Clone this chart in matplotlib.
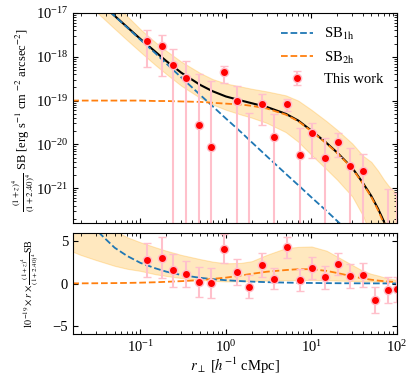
import numpy as np
import matplotlib
matplotlib.use("Agg")
import matplotlib.pyplot as plt

plt.rcParams["font.family"] = "serif"
plt.rcParams["font.serif"] = ["Liberation Serif", "DejaVu Serif"]
plt.rcParams["mathtext.fontset"] = "stix"
plt.rcParams["font.size"] = 10

# --- measured profile (SB in units of 1e-19 erg/s/cm^2/arcsec^2) ---
r_data = [0.121, 0.177, 0.242, 0.341, 0.482, 0.673, 0.948, 1.34, 1.87, 2.62, 3.66,
          5.17, 7.26, 10.2, 14.3, 20.2, 28.2, 39.8, 55.3, 78.0, 101.0]
sb_data = [23.0, 17.4, 6.4, 3.26, 0.277, 0.089, 4.38, 1.0, -0.19, 0.83, 0.15,
           0.83, 0.056, 0.179, 0.050, 0.115, 0.0327, 0.0248, -0.036, -0.0103, -0.007]
sb_err = [17.0, 13.7, 8.3, 4.6, 3.7, 2.7, 1.85, 1.17, 0.70, 0.55, 0.34,
          0.24, 0.177, 0.13, 0.092, 0.064, 0.051, 0.035, 0.028, 0.0199, 0.0148]

# --- best-fit model (log10 SB) ---
r_mod = [0.016, 0.02, 0.03, 0.05, 0.07, 0.1, 0.15, 0.2, 0.3, 0.5, 0.7, 1.0, 1.5, 2.0,
         3.0, 5.0, 7.0, 10, 15, 20, 30, 40, 50, 60, 70, 80, 90, 100]
log_sb1h = [-16.17, -16.35, -16.67, -17.07, -17.33, -17.61, -17.92, -18.15, -18.47,
            -18.87, -19.13, -19.41, -19.72, -19.95, -20.27, -20.67, -20.93, -21.21,
            -21.52, -21.75, -22.07, -22.29, -22.47, -22.61, -22.73, -22.83, -22.93, -23.0]
log_sb2h = [-19.0, -19.0, -19.0, -19.0, -19.0, -19.0, -19.01, -19.01, -19.02, -19.03,
            -19.05, -19.07, -19.09, -19.12, -19.18, -19.32, -19.47, -19.7, -19.98,
            -20.2, -20.55, -20.9, -21.2, -21.5, -21.8, -22.2, -22.6, -23.0]
log_band_hi = [-15.87, -16.05, -16.36, -16.78, -17.07, -17.37, -17.67, -17.86, -18.11,
               -18.37, -18.51, -18.61, -18.68, -18.73, -18.79, -18.88, -19.0, -19.21,
               -19.47, -19.67, -19.98, -20.26, -20.4, -20.6, -20.8, -20.95, -21.05, -21.15]
log_band_lo = [-16.47, -16.65, -16.96, -17.36, -17.62, -17.89, -18.19, -18.39, -18.66,
               -18.94, -19.09, -19.21, -19.32, -19.39, -19.51, -19.72, -19.94, -20.24,
               -20.57, -20.81, -21.19, -21.63, -22.1, -22.7, -23.0, -23.5, -24.0, -24.0]

# r x SB panel (units of 1e-19)
rsb_2h = [0.02, 0.02, 0.03, 0.05, 0.07, 0.1, 0.15, 0.2, 0.28, 0.4, 0.55, 0.7, 0.95, 1.15,
          1.4, 1.6, 1.7, 1.7, 1.5, 1.25, 0.85, 0.6, 0.45, 0.35, 0.28, 0.24, 0.2, 0.18]
rsb_band_hi = [9.0, 8.0, 7.0, 6.3, 5.5, 4.9, 4.3, 3.9, 3.4, 2.9, 2.6, 2.4, 2.45, 2.65,
               3.4, 4.2, 4.35, 4.4, 3.9, 3.2, 2.2, 1.5, 1.15, 0.95, 0.75, 0.6, 0.5, 0.45]
rsb_band_lo = [3.8, 3.4, 2.8, 2.1, 1.75, 1.5, 1.1, 0.9, 0.65, 0.42, 0.32, 0.25, 0.27, 0.3,
               0.35, 0.4, 0.42, 0.42, 0.4, 0.35, 0.3, 0.27, 0.25, 0.23, 0.22, 0.2, 0.2, 0.2]

r_data = np.array(r_data)
sb = np.array(sb_data) * 1e-19
err = np.array(sb_err) * 1e-19
r_mod = np.array(r_mod)
sb1h = 10 ** np.array(log_sb1h)
sb2h = 10 ** np.array(log_sb2h)
sb_tot = sb1h + sb2h

fig = plt.figure(figsize=(4.15, 3.79), dpi=100)
ax1 = fig.add_axes([0.1759, 0.4116, 0.7807, 0.5541])
ax2 = fig.add_axes([0.1759, 0.1187, 0.7807, 0.2665], sharex=ax1)

ebar_kw = dict(fmt="o", color="red", ms=6, mec="pink", mew=1.0, ecolor="pink",
               elinewidth=1.5, capsize=3, capthick=1.2)

# top panel
ax1.fill_between(r_mod, 10 ** np.array(log_band_lo), 10 ** np.array(log_band_hi),
                 color="orange", alpha=0.25, lw=0.8)
ax1.plot(r_mod, sb_tot, color="black", lw=1.5)
ax1.plot(r_mod, sb1h, ls="--", color="#1f77b4", lw=1.3, label=r"SB$_{\rm 1h}$")
ax1.plot(r_mod, sb2h, ls="--", color="#ff7f0e", lw=1.3, label=r"SB$_{\rm 2h}$")
ax1.errorbar(r_data, sb, yerr=err, label="This work", **ebar_kw)
ax1.set_xscale("log")
ax1.set_yscale("log", nonpositive="clip")
ax1.set_xlim(0.0163, 100)
ax1.set_ylim(1.6e-22, 1e-17)
ax1.set_ylabel(r"$\frac{(1+z)^4}{(1+2.40)^4}$ SB [erg s$^{-1}$ cm $^{-2}$ arcsec$^{-2}$]",
               fontsize=9)
ax1.yaxis.set_label_coords(-0.11, 0.49)
ax1.tick_params(labelbottom=False)
ax1.legend(loc="upper right", frameon=False, fontsize=10.5, handlelength=2.2)

# bottom panel: r x SB
ax2.fill_between(r_mod, rsb_band_lo, rsb_band_hi, color="orange", alpha=0.25, lw=0.8)
ax2.plot(r_mod, r_mod * sb1h / 1e-19, ls="--", color="#1f77b4", lw=1.3)
ax2.plot(r_mod, rsb_2h, ls="--", color="#ff7f0e", lw=1.3)
ax2.errorbar(r_data, r_data * sb / 1e-19, yerr=r_data * err / 1e-19, **ebar_kw)
ax2.set_ylim(-6, 6)
ax2.set_yticks([-5, 0, 5])
ax2.set_xlabel(r"$r_{\perp}$ [$h^{-1}$ cMpc]", fontsize=10.5, labelpad=1)
ax2.set_ylabel(r"$10^{-19}\times r\times\frac{(1+z)^4}{(1+2.40)^4}$SB", fontsize=7.2)
ax2.yaxis.set_label_coords(-0.1, 0.5)

for ax in (ax1, ax2):
    ax.tick_params(which="both", direction="in", top=True, right=True, labelsize=10.5)

fig.savefig("out.png", dpi=100)
